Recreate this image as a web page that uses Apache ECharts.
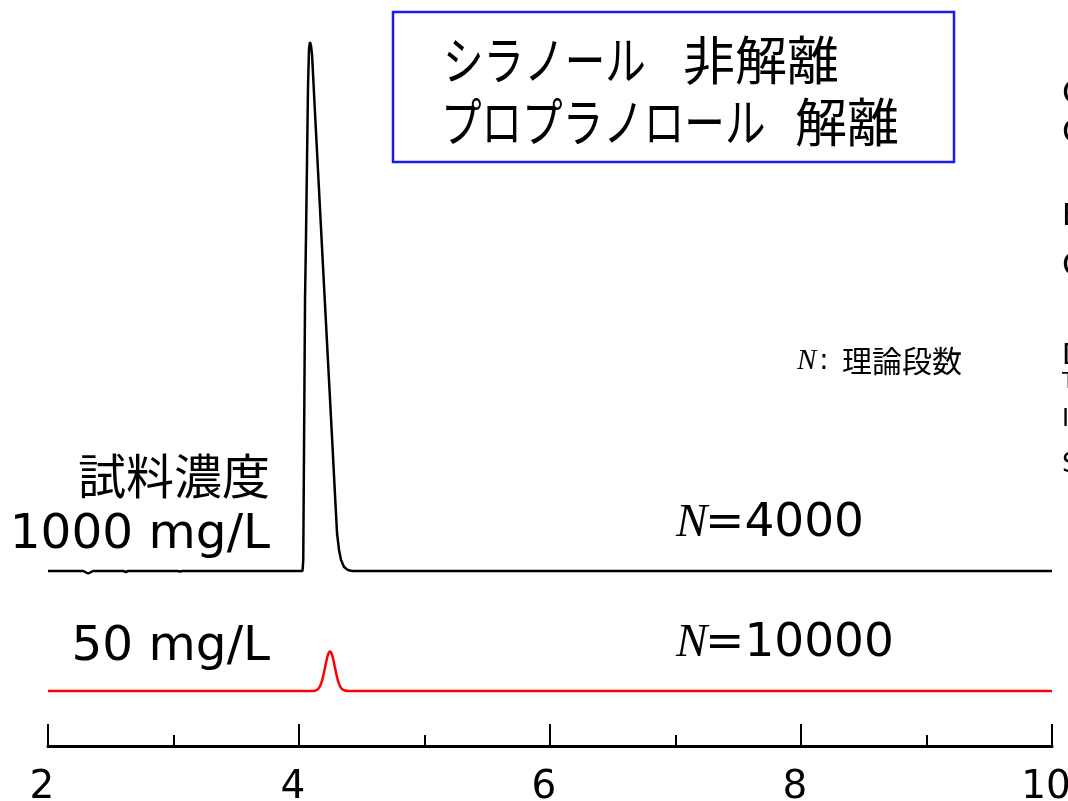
<!DOCTYPE html>
<html><head><meta charset="utf-8">
<script src="https://cdn.jsdelivr.net/npm/echarts@6/dist/echarts.min.js"></script>
<style>html,body{margin:0;padding:0;background:#fff}#c{width:1068px;height:801px}</style>
</head><body><div id="c"></div>
<script>
// Retention time (min) and detector signal (arbitrary units, offset per trace)
const blackTime   = [2.000,2.280,2.320,2.360,2.600,2.620,2.640,3.030,3.050,3.070,4.008,4.028,4.034,4.040,4.048,4.056,4.064,4.072,4.080,4.088,4.096,4.104,4.135,4.167,4.199,4.231,4.263,4.287,4.303,4.319,4.335,4.359,4.390,4.422,10.000];
const blackSignal = [175,175,172.5,175,175,174,175,175,174.5,175,175,175,186,297,446,511,586,661,698,704,700,691,615,538,461,385,309,251,213,196,186,179,176,175,175];
const redTime     = [2.000,4.100,4.127,4.151,4.167,4.183,4.199,4.215,4.231,4.247,4.263,4.279,4.295,4.311,4.327,4.343,4.367,4.398,10.000];
const redSignal   = [55,55,55.3,56.9,59.7,65.1,73.4,83.1,91.3,94.5,91.3,83.1,73.4,65.1,59.7,57,55.5,55,55];
const xTicks = {min: 2, max: 10, interval: 2};

const boxLine1 = ['シラノール', '非解離'];
const boxLine2 = ['プロプラノロール', '解離'];
const concTitle = '試料濃度';
const concLabels = ['1000 mg/L', '50 mg/L'];
const plateLabels = ['=4000', '=10000'];
const noteLabel = '理論段数';
const sideTexts = ['Column:', 'C18', 'Eluent:', 'CH3CN', 'Detection:', 'Temp.', 'Inj.', 'Sample:'];

const pair = (t, v) => t.map((x, i) => [x, v[i]]);
const chart = echarts.init(document.getElementById('c'), null, {renderer: 'canvas'});
const SANS = 'DejaVu Sans, Noto Sans CJK JP, sans-serif';
const JP = 'Noto Sans CJK JP, sans-serif';
const SERIF = 'Liberation Serif, DejaVu Serif, serif';
const txt = (text, x, y, size, opts = {}) => ({
  type: 'text', x, y, scaleX: opts.scaleX || 1, z: 10,
  style: {text, fontSize: size, fontFamily: opts.family || SANS, fontStyle: opts.italic ? 'italic' : 'normal',
          fill: '#000', textAlign: opts.align || 'left', textVerticalAlign: 'middle'}
});

const side = [[1062,95,32],[1062,134,32],[1062,217,30],[1062,267,32],[1062,357,28],[1062,382,22],[1062,420,24],[1062,465,26]];

chart.setOption({
  animation: false,
  backgroundColor: '#fff',
  grid: {left: 48, right: 16, top: 42, bottom: 55, containLabel: false, outerBoundsMode: 'none'},
  xAxis: {
    type: 'value', min: xTicks.min, max: xTicks.max, interval: xTicks.interval,
    axisLine: {show: true, onZero: false, lineStyle: {color: '#000', width: 3}},
    axisTick: {show: true, inside: true, length: 22, lineStyle: {color: '#000', width: 2}},
    minorTick: {show: true, splitNumber: 2, length: 11, lineStyle: {color: '#000', width: 2}},
    splitLine: {show: false},
    axisLabel: {color: '#000', fontSize: 39, fontFamily: SANS, margin: 22, padding: [0, 12, 0, 0], lineHeight: 40, hideOverlap: false}
  },
  yAxis: {type: 'value', min: 0, max: 704, show: false, splitLine: {show: false}},
  series: [
    {type: 'line', data: pair(blackTime, blackSignal), showSymbol: false, smooth: false,
     lineStyle: {color: '#000', width: 2.5}, itemStyle: {color: '#000'}},
    {type: 'line', data: pair(redTime, redSignal), showSymbol: false, smooth: 0.3,
     lineStyle: {color: '#ff0000', width: 2.5}, itemStyle: {color: '#ff0000'}}
  ],
  graphic: [
    {type: 'rect', shape: {x: 393, y: 12, width: 561, height: 150},
     style: {fill: 'none', stroke: '#1c1cf0', lineWidth: 2.5}, z: 9},
    txt(boxLine1[0], 443, 60, 52, {family: JP, scaleX: 0.78}),
    txt(boxLine1[1], 683, 60, 52, {family: JP}),
    txt(boxLine2[0], 441, 122, 52, {family: JP, scaleX: 0.78}),
    txt(boxLine2[1], 795, 122, 52, {family: JP}),
    txt(concTitle, 270, 476, 48, {family: JP, align: 'right'}),
    txt(concLabels[0], 270, 535, 48.5, {align: 'right'}),
    txt(concLabels[1], 270, 647, 48.5, {align: 'right'}),
    txt('N', 676, 524, 47, {family: SERIF, italic: true}),
    txt(plateLabels[0], 705, 524, 47),
    txt('N', 676, 644, 47, {family: SERIF, italic: true}),
    txt(plateLabels[1], 705, 644, 47),
    txt('N', 797, 361, 29, {family: SERIF, italic: true}),
    txt(':', 819, 361, 29),
    txt(noteLabel, 842, 361, 30, {family: JP}),
    ...sideTexts.map((s, i) => txt(s, side[i][0], side[i][1], side[i][2]))
  ]
});
</script></body></html>
